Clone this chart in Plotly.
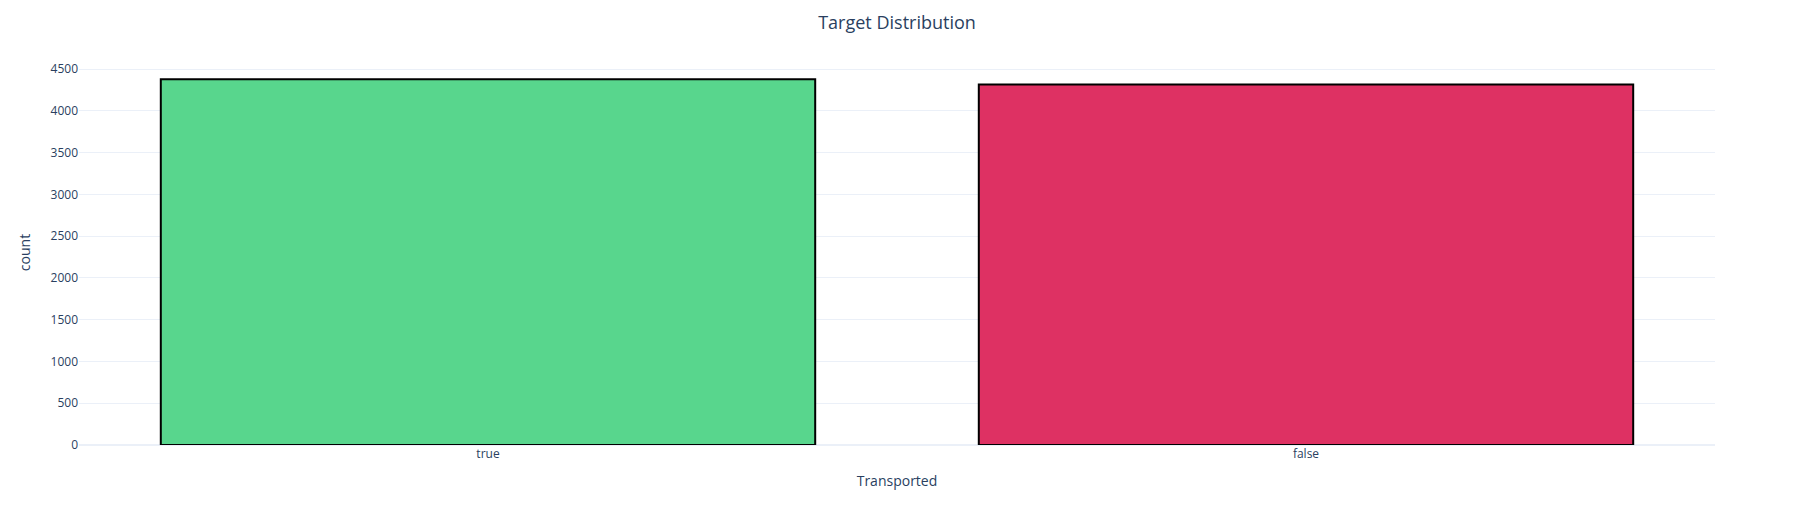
import plotly.graph_objects as go

categories = ["true", "false"]
counts = [4378, 4315]
bar_colors = ["#58D68D", "#DE3163"]

fig = go.Figure(
    go.Bar(
        x=categories,
        y=counts,
        marker=dict(color=bar_colors, line=dict(color="black", width=2)),
    )
)
fig.update_layout(
    template="plotly_white",
    width=1796,
    height=525,
    margin=dict(l=71, r=89, t=52, b=88),
    title=dict(text="Target Distribution", x=0.495, xanchor="center",
               y=0.972, yanchor="middle", font=dict(size=18)),
    xaxis_title="Transported",
    yaxis=dict(title=dict(text="count", standoff=16)),
    bargap=0.2,
    showlegend=False,
)
fig.write_html("out.html")
